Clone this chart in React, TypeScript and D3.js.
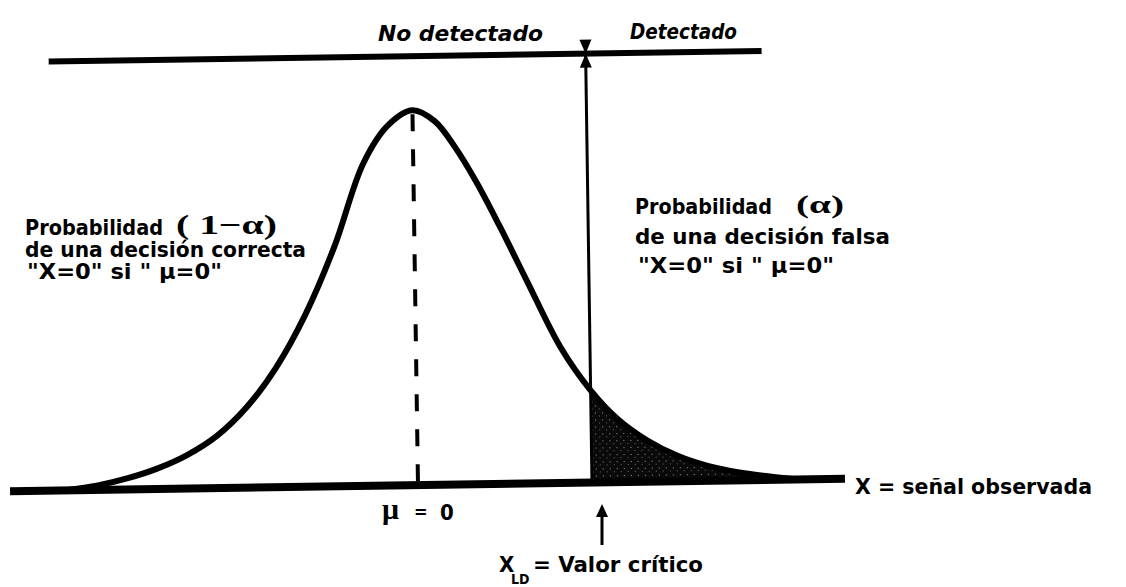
import React from 'react';
import * as d3 from 'd3';

// curve: position in sigma units, height relative to the peak
const zValues = [-3.53, -3.2, -2.9, -2.6, -2.3, -2.0, -1.7, -1.4, -1.1, -0.8, -0.5, -0.25, 0, 0.22, 0.42, 0.62, 0.85, 1.12, 1.45, 1.74, 2.0, 2.3, 2.6, 2.9, 3.2, 3.5, 3.8];
const density = [0, 0.012, 0.03, 0.055, 0.09, 0.14, 0.215, 0.32, 0.46, 0.64, 0.86, 0.96, 1, 0.97, 0.9, 0.81, 0.69, 0.54, 0.36, 0.246, 0.17, 0.11, 0.068, 0.04, 0.022, 0.01, 0];

const meanZ = 0;
const criticalZ = 1.74;
const axisDomain = [-4.08, 4.27];
const topLineDomain = [-3.63, 3.5];

const regionLabels = ['No detectado', 'Detectado'];
const leftLabel = ['Probabilidad', '( 1\u2212\u03b1)', 'de una decisi\u00f3n correcta', '"X=0"  si   " \u03bc=0"'];
const rightLabel = ['Probabilidad', '(\u03b1)', 'de una decisi\u00f3n  falsa', '"X=0"  si   " \u03bc=0"'];
const axisLabel = 'X = se\u00f1al observada';
const meanLabel = ['\u03bc', '=', '0'];
const criticalLabel = ['X', 'LD', '= Valor cr\u00edtico'];

const W = 1126;
const H = 587;
const sans = '"DejaVu Sans Condensed", "DejaVu Sans", "Liberation Sans", sans-serif';
const serif = '"Liberation Serif", "Times New Roman", serif';

const App: React.FC = () => {
  const x = d3.scaleLinear().domain(axisDomain).range([10, 845]);
  const y = d3.scaleLinear().domain([0, 1]).range([485, 110]);

  const pts = zValues.map((z, i) => ({ z, d: density[i] }));
  const line = d3.line<any>().x(p => x(p.z)).y(p => y(p.d)).curve(d3.curveCatmullRom.alpha(0.5));
  const tail = pts.filter(p => p.z >= criticalZ);
  const area = d3.area<any>().x(p => x(p.z)).y0(y(0)).y1(p => y(p.d)).curve(d3.curveCatmullRom.alpha(0.5));

  const peak = density[zValues.indexOf(meanZ)];
  const cx = x(criticalZ);
  const topY = 56;

  const bold = { fontFamily: sans, fontWeight: 700, fill: '#000' } as const;

  return (
    <svg width={W} height={H} style={{ position: 'absolute', left: 0, top: 0, background: '#fff' }}>
      <defs>
        <pattern id="stipple" width="7" height="7" patternUnits="userSpaceOnUse">
          <rect width="7" height="7" fill="#0a0a0a" />
          <rect x="1" y="2" width="1" height="1" fill="#9a9a9a" />
          <rect x="5" y="5" width="1" height="1" fill="#6a6a6a" />
        </pattern>
      </defs>

      <g transform="rotate(-0.85, 430, 485)">
        {/* shaded alpha tail */}
        <path d={area(tail) || ''} fill="url(#stipple)" />
        {/* baseline */}
        <line x1={x(axisDomain[0])} x2={x(axisDomain[1])} y1={y(0)} y2={y(0)} stroke="#000" strokeWidth={8} />
        {/* density curve */}
        <path d={line(pts) || ''} fill="none" stroke="#000" strokeWidth={6} strokeLinejoin="round" strokeLinecap="round" />
        {/* mean */}
        <line x1={x(meanZ)} x2={x(meanZ)} y1={y(peak) + 4} y2={y(0)} stroke="#000" strokeWidth={4} strokeDasharray="17 18" />
        {/* decision line */}
        <line x1={x(topLineDomain[0])} x2={x(topLineDomain[1])} y1={topY} y2={topY} stroke="#000" strokeWidth={6} />
        <line x1={cx} x2={cx} y1={topY} y2={y(0)} stroke="#000" strokeWidth={3} />
        <path d={`M${cx - 6},${topY - 14}L${cx + 6},${topY - 14}L${cx},${topY}Z M${cx - 6},${topY + 14}L${cx + 6},${topY + 14}L${cx},${topY}Z`} fill="#000" />
      </g>

      {/* region labels */}
      <text x={378} y={41} {...bold} fontStyle="italic" fontSize={22} textLength={165} lengthAdjust="spacingAndGlyphs">{regionLabels[0]}</text>
      <text x={630} y={39} {...bold} fontStyle="italic" fontSize={22} textLength={107} lengthAdjust="spacingAndGlyphs">{regionLabels[1]}</text>

      {/* left annotation */}
      <text x={25} y={235} {...bold} fontSize={21} textLength={138} lengthAdjust="spacingAndGlyphs">{leftLabel[0]}</text>
      <text x={176} y={234} fontFamily={serif} fontWeight={700} fontSize={28} fill="#000" textLength={101} lengthAdjust="spacingAndGlyphs">{leftLabel[1]}</text>
      <text x={25} y={257} {...bold} fontSize={21} textLength={281} lengthAdjust="spacingAndGlyphs">{leftLabel[2]}</text>
      <text x={27} y={279} {...bold} fontSize={21} textLength={195} lengthAdjust="spacingAndGlyphs">{leftLabel[3]}</text>

      {/* right annotation */}
      <text x={635} y={214} {...bold} fontSize={21} textLength={137} lengthAdjust="spacingAndGlyphs">{rightLabel[0]}</text>
      <text x={796} y={213} fontFamily={serif} fontWeight={700} fontSize={26} fill="#000" textLength={48} lengthAdjust="spacingAndGlyphs">{rightLabel[1]}</text>
      <text x={635} y={244} {...bold} fontSize={21} textLength={255} lengthAdjust="spacingAndGlyphs">{rightLabel[2]}</text>
      <text x={638} y={273} {...bold} fontSize={21} textLength={196} lengthAdjust="spacingAndGlyphs">{rightLabel[3]}</text>

      {/* axis label */}
      <text x={855} y={494} {...bold} fontSize={22} textLength={237} lengthAdjust="spacingAndGlyphs">{axisLabel}</text>

      {/* mean label */}
      <text x={382} y={519} fontFamily={serif} fontWeight={700} fontSize={30} fill="#000">{meanLabel[0]}</text>
      <text x={414} y={518} {...bold} fontSize={18}>{meanLabel[1]}</text>
      <text x={440} y={520} {...bold} fontSize={22}>{meanLabel[2]}</text>

      {/* critical value */}
      <line x1={602} x2={602} y1={545} y2={514} stroke="#000" strokeWidth={3} />
      <path d="M596,517L608,517L602,504Z" fill="#000" />
      <text x={499} y={572} {...bold} fontSize={22}>{criticalLabel[0]}</text>
      <text x={511} y={584} {...bold} fontSize={14}>{criticalLabel[1]}</text>
      <text x={533} y={572} {...bold} fontSize={22} textLength={170} lengthAdjust="spacingAndGlyphs">{criticalLabel[2]}</text>
    </svg>
  );
};

export default App;
